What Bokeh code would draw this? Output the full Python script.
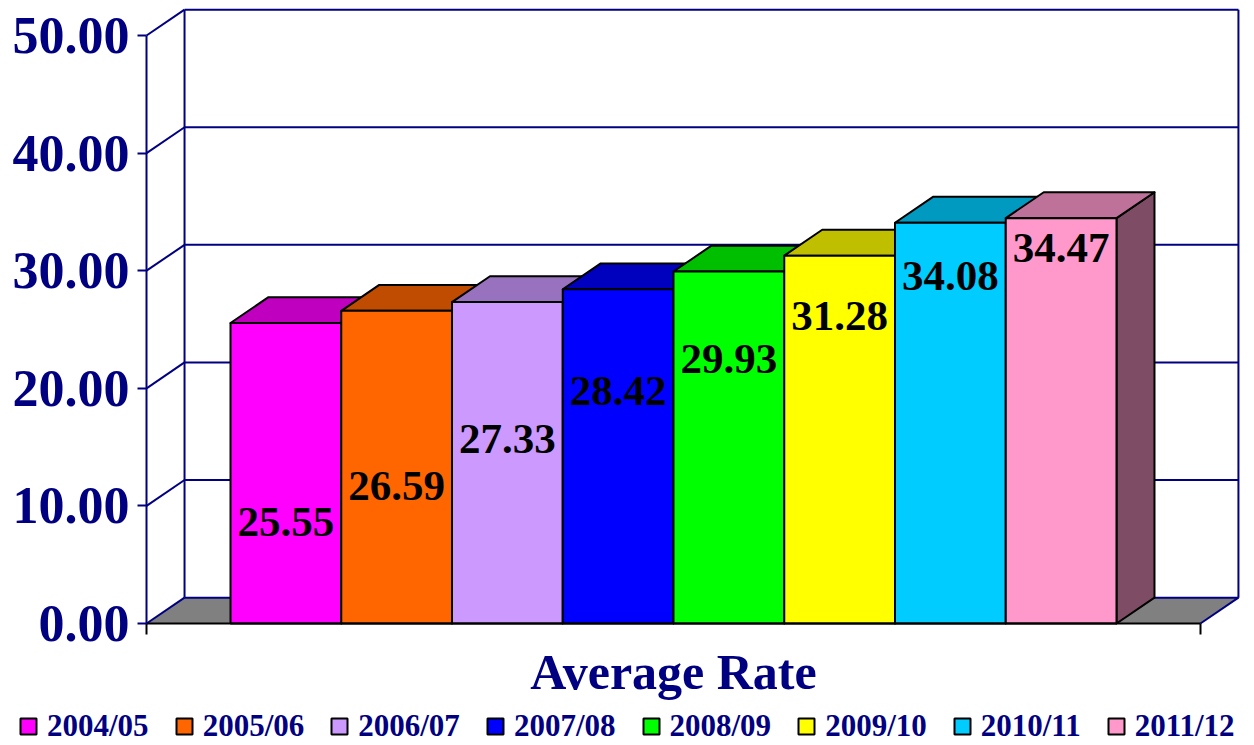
from bokeh.plotting import figure
from bokeh.models import (ColumnDataSource, FixedTicker, NumeralTickFormatter, Legend,
                          LegendItem, Label, Range1d, LinearAxis)
from bokeh.core.properties import value
from bokeh.embed import file_html
from bokeh.resources import INLINE

# ---------------- data ----------------
years = ["2004/05", "2005/06", "2006/07", "2007/08", "2008/09", "2009/10", "2010/11", "2011/12"]
rates = [25.55, 26.59, 27.33, 28.42, 29.93, 31.28, 34.08, 34.47]
y_ticks = [0, 10, 20, 30, 40, 50]
axis_title = "Average Rate"

# ---------------- styling / layout ----------------
front_colors = ["#FF00FF", "#FF6600", "#CC99FF", "#0000FF", "#00FF00", "#FFFF00", "#00CCFF", "#FF99CC"]
label_heights = [8.67, 11.73, 15.73, 19.81, 22.45, 26.11, 29.59, 31.97]  # where the value labels sit

NAVY = "#000080"
FONT = "Liberation Serif"


def shade(hex_color, f):
    h = hex_color.lstrip("#")
    r, g, b = (int(h[k:k + 2], 16) for k in (0, 2, 4))
    return "#%02X%02X%02X" % (int(r * f), int(g * f), int(b * f))


n = len(rates)
gap = 0.758           # empty space (in bar widths) between axis end and first/last bar
x_lo, x_hi = -gap, n + gap
dx, dy = 0.343, 2.2   # 3-D depth offset (x in bar widths, y in value units)

W, H = 1254, 745
px_per_bar = 110.75
px_per_unit = 11.76
first_bar_px = 230     # screen x of first bar's left edge
zero_px = 623          # screen y of the value 0
x_start = -first_bar_px / px_per_bar
x_end = (W - first_bar_px) / px_per_bar
y_start = -(H - zero_px) / px_per_unit
y_end = zero_px / px_per_unit

p = figure(width=W, height=H, output_backend="svg", toolbar_location=None,
           x_range=Range1d(x_start, x_end), y_range=Range1d(y_start, y_end),
           x_axis_location=None, y_axis_location=None,
           min_border=0, min_border_left=0, min_border_right=0,
           min_border_top=0, min_border_bottom=0)
p.xgrid.visible = False
p.ygrid.visible = False
p.outline_line_color = None
p.background_fill_color = "white"
p.border_fill_color = "white"

# y axis, drawn at the left end of the category axis
ya = LinearAxis(fixed_location=x_lo)
ya.ticker = FixedTicker(ticks=y_ticks)
ya.formatter = NumeralTickFormatter(format="0.00")
ya.bounds = (0, y_ticks[-1])
ya.axis_line_color = NAVY
ya.axis_line_width = 2
ya.major_tick_line_color = NAVY
ya.major_tick_line_width = 2
ya.major_tick_out = 9
ya.major_tick_in = 0
ya.minor_tick_line_color = None
ya.major_label_text_font = FONT
ya.major_label_text_font_style = "bold"
ya.major_label_text_font_size = "52px"
ya.major_label_text_color = NAVY
ya.major_label_standoff = 8
p.add_layout(ya, "left")

# x axis (line and end ticks) at value 0
xa = LinearAxis(fixed_location=0)
xa.ticker = FixedTicker(ticks=[x_lo, x_hi])
xa.bounds = (x_lo, x_hi)
xa.axis_line_color = "black"
xa.axis_line_width = 2
xa.major_tick_line_color = "black"
xa.major_tick_line_width = 2
xa.major_tick_out = 11
xa.major_tick_in = 0
xa.minor_tick_line_color = None
xa.major_label_overrides = {x_lo: " ", x_hi: " "}
xa.major_label_text_font_size = "1px"
p.add_layout(xa, "below")

# floor
p.patch([x_lo, x_hi, x_hi + dx, x_lo + dx], [0, 0, dy, dy],
        fill_color="#808080", line_color=None, level="underlay")

# walls
p.segment(x0=[x_lo] * len(y_ticks), y0=y_ticks,
          x1=[x_lo + dx] * len(y_ticks), y1=[t + dy for t in y_ticks],
          line_color=NAVY, line_width=2, level="underlay")
p.segment(x0=[x_lo + dx] * len(y_ticks), y0=[t + dy for t in y_ticks],
          x1=[x_hi + dx] * len(y_ticks), y1=[t + dy for t in y_ticks],
          line_color=NAVY, line_width=2, level="underlay")
p.segment(x0=[x_lo + dx, x_hi + dx, x_hi], y0=[dy, dy, 0],
          x1=[x_lo + dx, x_hi + dx, x_hi + dx], y1=[y_ticks[-1] + dy, y_ticks[-1] + dy, dy],
          line_color=NAVY, line_width=2, level="underlay")

# bars
fronts = []
for i, (v, c) in enumerate(zip(rates, front_colors)):
    x0, x1 = i, i + 1
    p.patches(xs=[[x1, x1 + dx, x1 + dx, x1], [x0, x1, x1 + dx, x0 + dx]],
              ys=[[0, dy, v + dy, v], [v, v, v + dy, v + dy]],
              fill_color=[shade(c, 0.5), shade(c, 0.75)],
              line_color="black", line_width=2, line_join="round")
    src = ColumnDataSource(dict(left=[x0], right=[x1], bottom=[0], top=[v]))
    r = p.quad(left="left", right="right", bottom="bottom", top="top", source=src,
               fill_color=c, line_color="black", line_width=2)
    fronts.append(r)

# value labels
p.text(x=[i + 0.5 for i in range(n)], y=label_heights,
       text=["%.2f" % v for v in rates],
       text_font=value(FONT), text_font_style="bold", text_font_size="43px",
       text_color="black", text_align="center", text_baseline="middle")

# axis title
p.add_layout(Label(x=n / 2, y=-48 / px_per_unit, x_units="data", y_units="data",
                   text=axis_title, text_font=FONT, text_font_style="bold",
                   text_font_size="50px", text_color=NAVY,
                   text_align="center", text_baseline="alphabetic"))

# legend
legend = Legend(items=[LegendItem(label=y, renderers=[r]) for y, r in zip(years, fronts)],
                orientation="horizontal", location=(18, 1),
                label_text_font=FONT, label_text_font_style="bold",
                label_text_font_size="31px", label_text_color=NAVY,
                glyph_width=20, glyph_height=20, label_standoff=9, spacing=25,
                padding=0, margin=0, border_line_color=None, background_fill_alpha=0)
p.add_layout(legend)

open("out.html", "w").write(file_html(p, INLINE))
